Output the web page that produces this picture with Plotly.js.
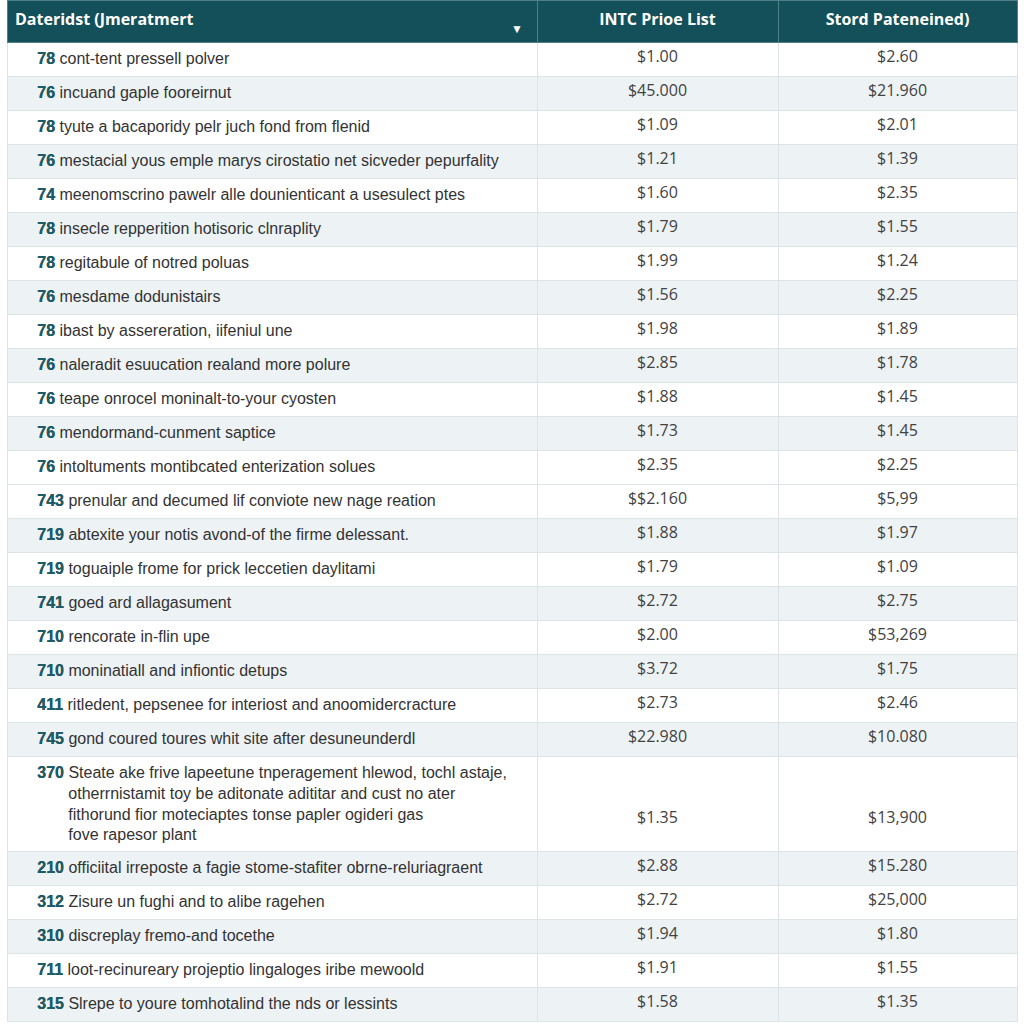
<!DOCTYPE html>
<html><head><meta charset="utf-8">
<script src="https://cdn.plot.ly/plotly-3.0.1.min.js"></script>
<style>html,body{margin:0;padding:0;background:#fff;}#chart{width:1024px;height:1024px;}</style>
</head><body><div id="chart"></div>
<script>
const headers = ["Dateridst (Jmeratmert", "INTC Prioe List", "Stord Pateneined)"];
const nums = ["78","76","78","76","74","78","78","76","78","76","76","76","76","743","719","719","741","710","710","411","745","370","210","312","310","711","315"];
const descs = [
  "cont-tent pressell polver",
  "incuand gaple fooreirnut",
  "tyute a bacaporidy pelr juch fond from flenid",
  "mestacial yous emple marys cirostatio net sicveder pepurfality",
  "meenomscrino pawelr alle dounienticant a usesulect ptes",
  "insecle repperition hotisoric clnraplity",
  "regitabule of notred poluas",
  "mesdame dodunistairs",
  "ibast by assereration, iifeniul une",
  "naleradit esuucation realand more polure",
  "teape onrocel moninalt-to-your cyosten",
  "mendormand-cunment saptice",
  "intoltuments montibcated enterization solues",
  "prenular and decumed lif conviote new nage reation",
  "abtexite your notis avond-of the firme delessant.",
  "toguaiple frome for prick leccetien daylitami",
  "goed ard allagasument",
  "rencorate in-flin upe",
  "moninatiall and infiontic detups",
  "ritledent, pepsenee for interiost and anoomidercracture",
  "gond coured toures whit site after desuneunderdl",
  "Steate ake frive lapeetune tnperagement hlewod, tochl astaje,\notherrnistamit toy be aditonate adititar and cust no ater\nfithorund fior moteciaptes tonse papler ogideri gas\nfove rapesor plant",
  "officiital irreposte a fagie stome-stafiter obrne-reluriagraent",
  "Zisure un fughi and to alibe ragehen",
  "discreplay fremo-and tocethe",
  "loot-recinureary projeptio lingaloges iribe mewoold",
  "Slrepe to youre tomhotalind the nds or lessints"
];
const prices = ["$1.00","$45.000","$1.09","$1.21","$1.60","$1.79","$1.99","$1.56","$1.98","$2.85","$1.88","$1.73","$2.35","$$2.160","$1.88","$1.79","$2.72","$2.00","$3.72","$2.73","$22.980","$1.35","$2.88","$2.72","$1.94","$1.91","$1.58"];
const stored = ["$2.60","$21.960","$2.01","$1.39","$2.35","$1.55","$1.24","$2.25","$1.89","$1.78","$1.45","$1.45","$2.25","$5,99","$1.97","$1.09","$2.75","$53,269","$1.75","$2.46","$10.080","$13,900","$15.280","$25,000","$1.80","$1.55","$1.35"];

const W = 1024, H = 1024;
const NB = '\u00a0';
const indent = NB.repeat(5);
const contIndent = NB.repeat(12);

const lineCount = descs.map(d => d.split('\n').length);

const col1 = nums.map((n, i) => {
  const lines = descs[i].split('\n');
  return indent + '<b>' + n + '</b> ' + lines[0] + lines.slice(1).map(l => '<br>' + contIndent + l).join('');
});
const numOnly = nums.map((n, i) => indent + '<b>' + n + '</b>' + ('<br>' + NB).repeat(lineCount[i] - 1));
// push values down in tall rows so they sit near the row middle
const vpad = i => (NB + '<br>').repeat(Math.floor(lineCount[i] / 2));
const col2 = prices.map((v, i) => vpad(i) + v);
const col3 = stored.map((v, i) => vpad(i) + v);

const WHITE = '#ffffff', GRAY = '#edf2f5';
const fills = nums.map((_, i) => (i < 13 ? (i % 2 === 1) : ((i - 13) % 2 === 1)) ? GRAY : WHITE);

const main = {
  type: 'table',
  domain: {x: [7 / W, 1017 / W], y: [0, 1]},
  columnwidth: [530, 241, 239],
  header: {
    values: headers.map(h => '<b>' + h + '</b>'),
    align: ['left', 'center', 'center'],
    height: 42,
    fill: {color: '#14505a'},
    line: {color: '#4f7f87', width: 1},
    font: {family: 'Open Sans', size: 16, color: '#ffffff'}
  },
  cells: {
    values: [col1, col2, col3],
    align: ['left', 'center', 'center'],
    height: 34,
    fill: {color: [fills, fills, fills]},
    line: {color: '#dde4e8', width: 1},
    font: {family: ['Liberation Sans', 'Open Sans', 'Open Sans'], size: [16, 16, 16], color: ['#333333', '#424242', '#424242']}
  }
};

const overlay = {
  type: 'table',
  domain: {x: [7 / W, 537 / W], y: [0, 1]},
  columnwidth: [1],
  header: {
    values: [''],
    height: 42,
    fill: {color: 'rgba(0,0,0,0)'},
    line: {color: 'rgba(0,0,0,0)', width: 0}
  },
  cells: {
    values: [numOnly],
    align: 'left',
    height: 34,
    fill: {color: 'rgba(0,0,0,0)'},
    line: {color: 'rgba(0,0,0,0)', width: 0},
    font: {family: 'Liberation Sans', size: 16, color: '#1c5d69'}
  }
};

const layout = {
  width: W, height: H,
  margin: {l: 0, r: 0, t: 0, b: 0},
  paper_bgcolor: '#ffffff',
  annotations: [{
    text: '▼', x: 517 / W, y: 1 - 18 / H, xref: 'paper', yref: 'paper',
    showarrow: false, font: {size: 12, color: '#ffffff'}
  }]
};

Plotly.newPlot('chart', [main, overlay], layout, {displayModeBar: false, staticPlot: true});
</script>
</body></html>
